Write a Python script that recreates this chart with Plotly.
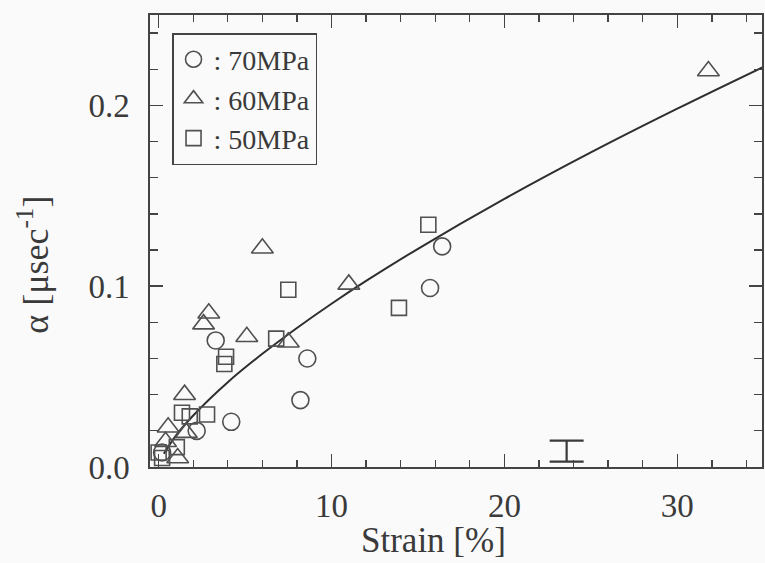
import plotly.graph_objects as go

# ---- data ----
circle_x = [0.2, 2.2, 4.2, 3.3, 8.2, 8.6, 15.7, 16.4]
circle_y = [0.008, 0.020, 0.025, 0.070, 0.037, 0.060, 0.099, 0.122]

tri_x = [0.4, 0.55, 1.1, 1.6, 1.5, 2.6, 2.9, 5.1, 6.0, 7.5, 11.0, 31.8]
tri_y = [0.014, 0.022, 0.005, 0.019, 0.040, 0.079, 0.085, 0.072, 0.121, 0.069, 0.101, 0.219]

sq_x = [0.0, 0.2, 1.05, 1.35, 1.8, 2.8, 3.8, 3.9, 6.8, 7.5, 13.9, 15.6]
sq_y = [0.008, 0.005, 0.011, 0.030, 0.028, 0.029, 0.057, 0.061, 0.071, 0.098, 0.088, 0.134]

fit_x = [0.3, 1, 2, 4, 6, 8, 10, 12, 15, 20, 25, 30, 35]
fit_y = [0.0073, 0.0174, 0.0285, 0.0469, 0.0626, 0.0769, 0.0903, 0.1029, 0.1207, 0.1483, 0.1740, 0.1982, 0.2214]

err_x = [23.6]
err_y = [0.0088]
err_half = [0.0058]

x_ticks = [0, 10, 20, 30]
y_ticks = [0.0, 0.1, 0.2]
y_ticktext = ["0.0", "0.1", "0.2"]
legend_names = [": 70MPa", ": 60MPa", ": 50MPa"]

FONT = "Liberation Serif, Times New Roman, DejaVu Serif, serif"
INK = "#3a3a3a"
MK = "#505050"
BG = "#fbfafb"

fig = go.Figure()

fig.add_trace(go.Scatter(x=fit_x, y=fit_y, mode="lines", line=dict(color="#2e2e2e", width=2, shape="spline"),
                         showlegend=False, hoverinfo="skip"))
fig.add_trace(go.Scatter(x=circle_x, y=circle_y, mode="markers", name=legend_names[0],
                         marker=dict(symbol="circle-open", size=17, color=MK, line=dict(width=1.6, color=MK)),
                         cliponaxis=False))
fig.add_trace(go.Scatter(x=tri_x, y=tri_y, mode="markers", name=legend_names[1],
                         marker=dict(symbol="triangle-up-open", size=19, color=MK, line=dict(width=1.6, color=MK)),
                         cliponaxis=False))
fig.add_trace(go.Scatter(x=sq_x, y=sq_y, mode="markers", name=legend_names[2],
                         marker=dict(symbol="square-open", size=15, color=MK, line=dict(width=1.6, color=MK)),
                         cliponaxis=False))
fig.add_trace(go.Scatter(x=err_x, y=err_y, mode="markers", marker=dict(size=1, color="rgba(0,0,0,0)"),
                         error_y=dict(type="data", array=err_half, color="#3a3a3a", thickness=2.2, width=17),
                         showlegend=False, hoverinfo="skip"))

axis_common = dict(showline=True, linecolor="#444", linewidth=1.6, mirror="allticks",
                   ticks="inside", tickcolor="#444", tickwidth=1.5, showgrid=False, zeroline=False,
                   tickfont=dict(family=FONT, size=33, color=INK))

fig.update_xaxes(range=[-0.5, 34.9], tickmode="array", tickvals=x_ticks, ticklen=13,
                 ticklabelstandoff=9,
                 minor=dict(tickmode="linear", tick0=0, dtick=2, ticks="inside", ticklen=7,
                            tickcolor="#444", tickwidth=1.3, showgrid=False),
                 **axis_common)
fig.update_yaxes(range=[0, 0.25], tickmode="array", tickvals=y_ticks, ticktext=y_ticktext, ticklen=13,
                 ticklabelstandoff=12,
                 minor=dict(tickmode="linear", tick0=0, dtick=0.02, ticks="inside", ticklen=8,
                            tickcolor="#444", tickwidth=1.3, showgrid=False),
                 **axis_common)

fig.update_layout(
    width=765, height=563,
    margin=dict(l=150, r=1, t=15, b=96),
    paper_bgcolor=BG, plot_bgcolor=BG,
    font=dict(family=FONT, color=INK),
    legend=dict(x=0.036, y=0.96, xanchor="left", yanchor="top",
                bgcolor=BG, bordercolor="#444", borderwidth=1.5,
                font=dict(family=FONT, size=28, color=INK),
                itemsizing="trace", tracegroupgap=0),
    annotations=[
        dict(text="Strain [%]", xref="paper", yref="paper", x=0.464, y=-0.162,
             showarrow=False, font=dict(family=FONT, size=35, color=INK), xanchor="center", yanchor="middle"),
        dict(text="α [μsec<sup>-1</sup>]", xref="paper", yref="paper", x=-0.19, y=0.447,
             showarrow=False, textangle=-90, font=dict(family=FONT, size=36, color=INK),
             xanchor="center", yanchor="middle"),
    ],
)

fig.write_html("out.html", config={"displayModeBar": False, "staticPlot": True},
               post_script="document.body.style.margin='0';document.body.style.padding='0';"
                           "document.body.style.background='#fbfafb';document.body.style.overflow='hidden';")
